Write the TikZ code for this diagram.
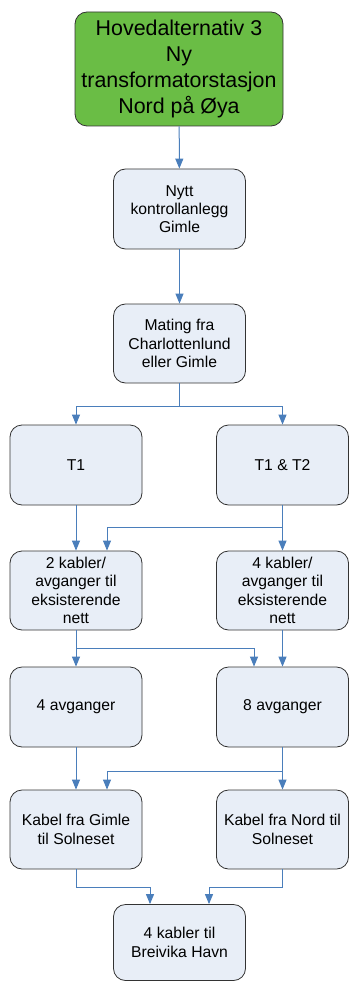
\documentclass[tikz,border=0pt]{standalone}
\usepackage{fontspec}
\setmainfont{Liberation Sans}
\usepackage{xcolor}
\usetikzlibrary{positioning,calc,arrows.meta}

\definecolor{boxfill}{RGB}{232,238,247}
\definecolor{topgreen}{RGB}{106,189,69}
\definecolor{linkblue}{RGB}{74,126,187}

\tikzset{
  stepbox/.style={draw=black!80, fill=boxfill, rounded corners=12pt, line width=0.8pt,
    minimum width=132pt, minimum height=80pt, inner sep=2pt, align=center,
    font=\fontsize{15.7}{18.3}\selectfont},
  topbox/.style={stepbox, fill=topgreen, minimum width=208pt, minimum height=114pt,
    font=\fontsize{21.4}{25.8}\selectfont},
  link/.style={draw=linkblue, line width=1pt, -{Triangle[width=8pt,length=10pt]}}
}

\begin{document}
\begin{tikzpicture}[x=1pt,y=-1pt]
    \useasboundingbox (0,0) rectangle (349,981);

    % Boxes
    \node[topbox] (top) at (179,69) {Hovedalternativ 3\\Ny\\transformatorstasjon\\Nord på Øya};
    \node[stepbox] (nytt) at (179.5,209) {Nytt\\kontrollanlegg\\Gimle};
    \node[stepbox, minimum height=79pt] (mating) at (179.5,343.5) {Mating fra\\Charlottenlund\\eller Gimle};

    \node[stepbox] (t1) at (76,465) {T1};
    \node[stepbox] (t12) at (282.5,465) {T1 \& T2};

    \node[stepbox, minimum height=79pt] (kab2) at (76,590.5) {2 kabler/\\avganger til\\eksisterende\\nett};
    \node[stepbox, minimum height=79pt] (kab4) at (282.5,590.5) {4 kabler/\\avganger til\\eksisterende\\nett};

    \node[stepbox] (av4) at (76,707) {4 avganger};
    \node[stepbox] (av8) at (282.5,707) {8 avganger};

    \node[stepbox, minimum height=79pt] (gimle) at (76,829.5) {Kabel fra Gimle\\til Solneset};
    \node[stepbox, minimum height=79pt] (nord) at (282.5,829.5) {Kabel fra Nord til\\Solneset};

    \node[stepbox, minimum height=76pt] (breiv) at (179.5,942.5) {4 kabler til\\Breivika Havn};

    % Connectors
    \draw[link] (top) -- (nytt);
    \draw[link] (nytt) -- (mating);
    \draw[link] (mating.south) -- ++(0,23) -| (t1.north);
    \draw[link] (mating.south) -- ++(0,23) -| (t12.north);

    \draw[link] (t1) -- (kab2);
    \draw[link] (t12) -- (kab4);
    \draw[link] (t12.south) -- ++(0,22) -| ([xshift=31pt]kab2.north);

    \draw[link] (kab2) -- (av4);
    \draw[link] (kab2.south) -- ++(0,18) -| ([xshift=-28.5pt]av8.north);
    \draw[link] (kab4) -- (av8);

    \draw[link] (av4) -- (gimle);
    \draw[link] (av8) -- (nord);
    \draw[link] (av8.south) -- ++(0,24) -| ([xshift=31pt]gimle.north);

    \draw[link] (gimle.south) -- ++(0,18) -| ([xshift=-29.5pt]breiv.north);
    \draw[link] (nord.south) -- ++(0,18) -| ([xshift=29.5pt]breiv.north);
\end{tikzpicture}
\end{document}
